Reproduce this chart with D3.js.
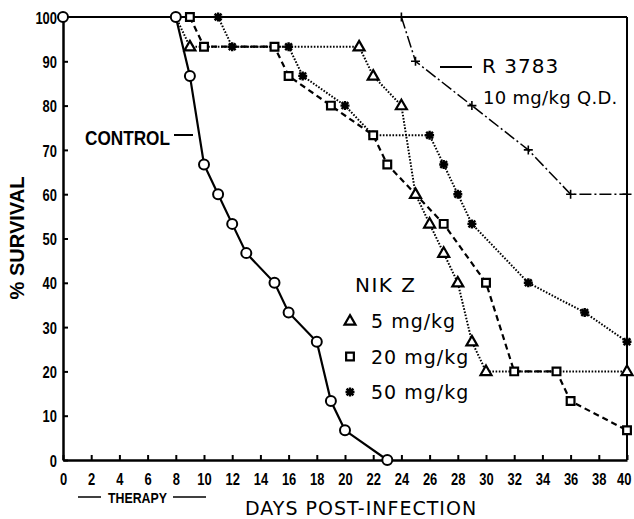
<!DOCTYPE html>
<html>
<head>
<meta charset="utf-8">
<script src="https://cdn.jsdelivr.net/npm/d3@7"></script>
<style>
  body { margin: 0; background: #fff; }
  svg { display: block; }
  .narrow { font-family: "Liberation Sans", Arial, sans-serif; font-weight: bold; }
  .wide { font-family: "DejaVu Sans", sans-serif; }
</style>
</head>
<body>
<script>
(function(){

// survival data (day, % survival)
var controlDays = [0, 8, 9, 10, 11, 12, 13, 15, 16, 18, 19, 20, 23];
var controlPct  = [100, 100, 86.7, 66.7, 60, 53.3, 46.7, 40, 33.3, 26.7, 13.3, 6.7, 0];

var nik5Days = [8, 9, 21, 22, 24, 25, 26, 27, 28, 29, 30, 40];
var nik5Pct  = [100, 93.3, 93.3, 86.7, 80, 60, 53.3, 46.7, 40, 26.7, 20, 20];

var nik20Days = [9, 10, 15, 16, 19, 22, 23, 27, 30, 32, 35, 36, 40];
var nik20Pct  = [100, 93.3, 93.3, 86.7, 80, 73.3, 66.7, 53.3, 40, 20, 20, 13.3, 6.7];

var nik50Days = [11, 12, 16, 17, 20, 22, 26, 27, 28, 29, 33, 37, 40];
var nik50Pct  = [100, 93.3, 93.3, 86.7, 80, 73.3, 73.3, 66.7, 60, 53.3, 40, 33.3, 26.7];

var rDays = [24, 25, 29, 33, 36, 40];
var rPct  = [100, 90, 80, 70, 60, 60];

var xTicks = d3.range(0, 41, 2);
var yTicks = d3.range(0, 101, 10);

var width = 634, height = 519;

var svg = d3.select("body").append("svg")
    .attr("width", width)
    .attr("height", height);

var x = d3.scaleLinear().domain([0, 40]).range([63, 627]);
var y = d3.scaleLinear().domain([0, 100]).range([460, 17]);

function zip(days, pct){
    return days.map(function(d, i){ return [d, pct[i]]; });
}

//squeezed bold text, like the plotter lettering
function narrowText(g, str, size, len){
    return g.append("text").attr("class", "narrow")
        .attr("font-size", size)
        .attr("textLength", len)
        .attr("lengthAdjust", "spacingAndGlyphs")
        .text(str);
}

//frame: top and right
svg.append("line")
    .attr("x1", x(0)).attr("x2", x(40))
    .attr("y1", y(100)).attr("y2", y(100))
    .attr("stroke", "#000").attr("stroke-width", 2);
svg.append("line")
    .attr("x1", x(40)).attr("x2", x(40))
    .attr("y1", y(100)).attr("y2", y(0))
    .attr("stroke", "#000").attr("stroke-width", 2);

//axes
var xAxis = svg.append("g")
    .attr("transform", "translate(0," + y(0) + ")")
    .call(d3.axisBottom(x).tickValues(xTicks).tickSizeInner(-5).tickSizeOuter(0).tickPadding(13));
var yAxis = svg.append("g")
    .attr("transform", "translate(" + x(0) + ",0)")
    .call(d3.axisLeft(y).tickValues(yTicks).tickSizeInner(-5).tickSizeOuter(0).tickPadding(6));

[xAxis, yAxis].forEach(function(g){
    g.select(".domain").attr("stroke-width", 2.5);
    g.selectAll(".tick line").attr("stroke-width", 2);
    g.selectAll(".tick text")
        .attr("class", "narrow")
        .attr("font-size", 17)
        .attr("fill", "#000")
        .attr("textLength", function(d){ return String(d).length * 7.2; })
        .attr("lengthAdjust", "spacingAndGlyphs");
});
xAxis.selectAll(".tick text").attr("dy", "0.72em");
//last label hugs the page edge
xAxis.selectAll(".tick text").filter(function(d){ return d == 40; })
    .attr("text-anchor", "end")
    .attr("x", 4);
yAxis.selectAll(".tick text").attr("dy", "0.36em");

//curves
var line = d3.line()
    .x(function(d){ return x(d[0]); })
    .y(function(d){ return y(d[1]); });

var series = [
    {pts: zip(rDays, rPct), dash: "12,3,2,3", w: 1.5, sym: "plus", from: 0},
    {pts: zip(nik5Days, nik5Pct), dash: "1.6,1.6", w: 2, sym: "tri", from: 1},
    {pts: zip(nik50Days, nik50Pct), dash: "1.6,1.6", w: 2, sym: "star", from: 0},
    {pts: zip(nik20Days, nik20Pct), dash: "6,4", w: 2.2, sym: "sq", from: 0},
    {pts: zip(controlDays, controlPct), dash: null, w: 2.2, sym: "circ", from: 0}
];

series.forEach(function(s){
    svg.append("path")
        .attr("d", line(s.pts))
        .attr("fill", "none")
        .attr("stroke", "#000")
        .attr("stroke-width", s.w)
        .attr("stroke-dasharray", s.dash);
});

function drawMarker(g, sym, cx, cy){
    if (sym == "circ"){
        g.append("circle").attr("cx", cx).attr("cy", cy).attr("r", 5)
            .attr("fill", "#fff").attr("stroke", "#000").attr("stroke-width", 2);
    } else if (sym == "tri"){
        g.append("path").attr("d", d3.symbol(d3.symbolTriangle, 52)())
            .attr("transform", "translate(" + cx + "," + (cy + 0.5) + ")")
            .attr("fill", "#fff").attr("stroke", "#000").attr("stroke-width", 2.2);
    } else if (sym == "sq"){
        g.append("path").attr("d", d3.symbol(d3.symbolSquare, 60)())
            .attr("transform", "translate(" + cx + "," + cy + ")")
            .attr("fill", "#fff").attr("stroke", "#000").attr("stroke-width", 2.2);
    } else if (sym == "star"){
        var r = 4.5, k = 3.4;
        g.append("path")
            .attr("d", "M" + (cx - r) + "," + cy + "H" + (cx + r) +
                       "M" + cx + "," + (cy - r) + "V" + (cy + r) +
                       "M" + (cx - k) + "," + (cy - k) + "L" + (cx + k) + "," + (cy + k) +
                       "M" + (cx - k) + "," + (cy + k) + "L" + (cx + k) + "," + (cy - k))
            .attr("stroke", "#000").attr("stroke-width", 2.4);
    } else if (sym == "plus"){
        var p = 4.5;
        g.append("path")
            .attr("d", "M" + (cx - p) + "," + cy + "H" + (cx + p) + "M" + cx + "," + (cy - p) + "V" + (cy + p))
            .attr("stroke", "#000").attr("stroke-width", 1.6);
    }
}

var marks = svg.append("g");
series.forEach(function(s){
    s.pts.slice(s.from).forEach(function(d){
        drawMarker(marks, s.sym, x(d[0]), y(d[1]));
    });
});

//labels
narrowText(svg, "CONTROL", 20, 85).attr("x", 85).attr("y", 145);
svg.append("line")
    .attr("x1", 174).attr("x2", 193).attr("y1", 135).attr("y2", 135)
    .attr("stroke", "#000").attr("stroke-width", 2);

svg.append("line")
    .attr("x1", 440).attr("x2", 472).attr("y1", 67).attr("y2", 67)
    .attr("stroke", "#000").attr("stroke-width", 2);
svg.append("text").attr("class", "wide")
    .attr("x", 482).attr("y", 73)
    .attr("font-size", 20).attr("letter-spacing", 1)
    .text("R 3783");
svg.append("text").attr("class", "wide")
    .attr("x", 483).attr("y", 104)
    .attr("font-size", 18).attr("letter-spacing", 0.3)
    .text("10 mg/kg Q.D.");

svg.append("text").attr("class", "wide")
    .attr("x", 355).attr("y", 292)
    .attr("font-size", 20).attr("letter-spacing", 1.5)
    .text("NIK Z");

var legendSyms = ["tri", "sq", "star"];
var legendText = ["5 mg/kg", "20 mg/kg", "50 mg/kg"];
legendSyms.forEach(function(sym, i){
    var cy = 321 + i * 35.5;
    drawMarker(svg, sym, 350, cy);
    svg.append("text").attr("class", "wide")
        .attr("x", 371).attr("y", cy + 7)
        .attr("font-size", 19).attr("letter-spacing", 1)
        .text(legendText[i]);
});

//axis titles
narrowText(svg, "% SURVIVAL", 21, 123)
    .attr("transform", "translate(24,238) rotate(-90)")
    .attr("x", -61.5).attr("y", 0);

svg.append("text").attr("class", "wide")
    .attr("x", 245).attr("y", 515)
    .attr("font-size", 19).attr("letter-spacing", 1)
    .text("DAYS POST-INFECTION");

svg.append("line")
    .attr("x1", 78).attr("x2", 101).attr("y1", 497).attr("y2", 497)
    .attr("stroke", "#000").attr("stroke-width", 1.5);
narrowText(svg, "THERAPY", 15, 59).attr("x", 108).attr("y", 503);
svg.append("line")
    .attr("x1", 173).attr("x2", 206).attr("y1", 497).attr("y2", 497)
    .attr("stroke", "#000").attr("stroke-width", 1.5);

})();
</script>
</body>
</html>
